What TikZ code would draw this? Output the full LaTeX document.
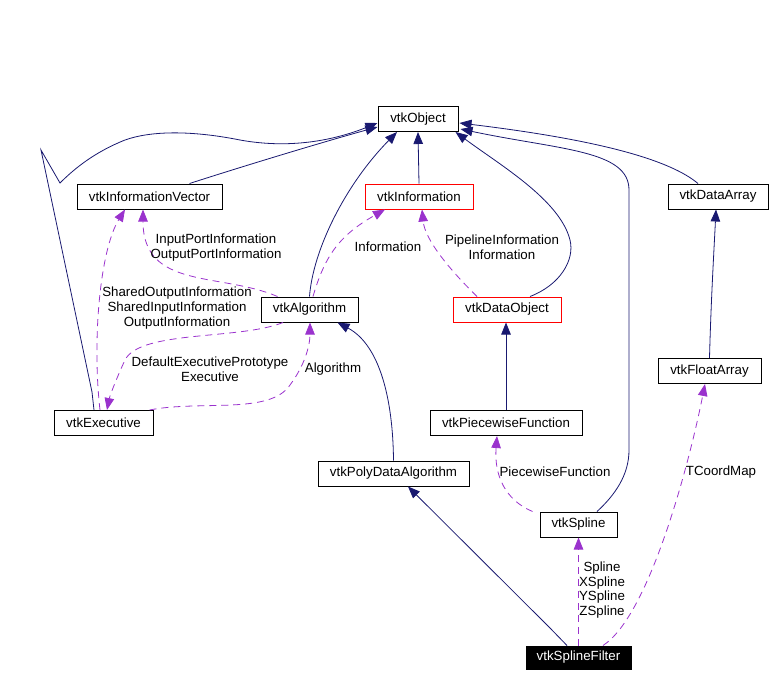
\documentclass[tikz,border=0pt]{standalone}
\usepackage{fontspec}
\setmainfont{Liberation Sans}
\usetikzlibrary{arrows.meta}
\definecolor{edgeNavy}{RGB}{25,25,112}
\definecolor{edgePurple}{RGB}{154,50,205}

\begin{document}
\begin{tikzpicture}[x=1pt,y=-1pt,
		cls/.style={draw=black, line width=1pt, minimum height=25pt, inner xsep=0pt, font=\fontsize{13.3}{15}\selectfont},
		lbl/.style={align=center, inner sep=0pt, font=\fontsize{13.3}{14.7}\selectfont},
		inh/.style={draw=edgeNavy, line width=0.8pt, -{Triangle[length=12pt,width=9.5pt]}},
		use/.style={draw=edgePurple, line width=0.8pt, dash pattern=on 7pt off 5pt, -{Triangle[length=12pt,width=9.5pt]}}]
	\def\picW{774};
	\def\picH{678};
	\useasboundingbox (0,0) rectangle (\picW,\picH);

	\node[cls, minimum width=80pt] (obj) at (418,119) {vtkObject};
	\node[cls, minimum width=145pt] (iv) at (149.5,196.5) {vtkInformationVector};
	\node[cls, minimum width=108pt, draw=red] (info) at (419,196.5) {vtkInformation};
	\node[cls, minimum width=100pt] (darr) at (718,196.5) {vtkDataArray};
	\node[cls, minimum width=97pt] (alg) at (309.5,309.5) {vtkAlgorithm};
	\node[cls, minimum width=108pt, draw=red] (dobj) at (507,309.5) {vtkDataObject};
	\node[cls, minimum width=103pt] (farr) at (709.5,371) {vtkFloatArray};
	\node[cls, minimum width=99pt] (exe) at (103.5,423) {vtkExecutive};
	\node[cls, minimum width=152pt] (pwf) at (506,423) {vtkPiecewiseFunction};
	\node[cls, minimum width=151pt] (pda) at (393.5,473.5) {vtkPolyDataAlgorithm};
	\node[cls, minimum width=77pt] (spl) at (578.5,524.5) {vtkSpline};
	\node[cls, minimum width=105pt, minimum height=23pt, fill=black, text=white] (sf) at (578.5,657.5) {vtkSplineFilter};

	\begin{scope}
		\draw[inh] ([xshift=40pt]iv.north) .. controls (250,164) and (330,140) .. ([yshift=-8pt]obj.west);
		\draw[inh] ([xshift=-9.5pt]exe.north) -- (92,392) -- (41,150) -- (60,183)
			.. controls (75,168) and (95,152) .. (125,140)
			.. controls (150,131) and (190,130) .. (240,140)
			.. controls (295,150) and (340,138) .. ([yshift=-4pt]obj.west);
		\draw[inh] (alg.north) .. controls (313,250) and (345,185) .. ([xshift=-21pt]obj.south);
		\draw[inh] (info.north) -- (obj.south);
		\draw[inh] ([xshift=23pt]dobj.north) .. controls (560,285) and (575,260) .. (570,240)
			.. controls (560,200) and (500,165) .. ([xshift=-3pt]obj.south east);
		\draw[inh] ([xshift=18.5pt]spl.north) .. controls (615,495) and (629,475) .. (629,450) -- (629,190)
			.. controls (629,150) and (560,150) .. ([xshift=2pt,yshift=-10pt]obj.east);
		\draw[inh] ([xshift=-20pt]darr.north) .. controls (670,160) and (600,140) .. ([xshift=1pt,yshift=-4pt]obj.east);
		\draw[inh] (farr.north) .. controls (711,300) and (714,250) .. ([xshift=-2pt]darr.south);
		\draw[inh] (pwf.north) -- (pwf.north |- dobj.south);
		\draw[inh] (pda.north) .. controls (393,400) and (380,345) .. ([xshift=28pt]alg.south);
		\draw[inh] ([xshift=-11.5pt]sf.north) -- (550,628) -- ([xshift=14.5pt]pda.south);
	\end{scope}

	\begin{scope}
		\draw[use] ([xshift=-32pt]alg.north) .. controls (220,272) and (143,290) .. ([xshift=-6.5pt]iv.south);
		\node[lbl] (lblPort) at (216,247.5) {InputPortInformation\\OutputPortInformation};
		\draw[use] ([xshift=-3.5pt]exe.north) .. controls (92,340) and (100,250) .. ([xshift=-24.5pt]iv.south);
		\node[lbl] (lblShared) at (177,308) {SharedOutputInformation\\SharedInputInformation\\OutputInformation};
		\draw[use] ([xshift=3.5pt]alg.north) .. controls (325,255) and (340,235) .. ([xshift=-34pt]info.south);
		\node[lbl] (lblInfo) at (388,247) {Information};
		\draw[use] ([xshift=-30pt]dobj.north) .. controls (450,270) and (425,240) .. ([xshift=3pt]info.south);
		\node[lbl] (lblPipe) at (502,247.5) {PipelineInformation\\Information};
		\draw[use] ([xshift=-4pt]exe.north east) .. controls (200,400) and (270,415) .. (290,385)
			.. controls (305,365) and (310,345) .. ([xshift=0.5pt]alg.south);
		\node[lbl] (lblAlg) at (333,369) {Algorithm};
		\draw[use] ([xshift=-26.5pt]alg.south) .. controls (240,340) and (140,330) .. (125,360)
			.. controls (118,375) and (110,395) .. ([xshift=3.5pt]exe.north);
		\node[lbl] (lblExe) at (210,369.5) {DefaultExecutivePrototype\\Executive};
		\draw[use] ([xshift=-7pt]spl.north west) .. controls (505,500) and (494,475) .. ([xshift=-9pt]pwf.south);
		\node[lbl] (lblPwf) at (555,472) {PiecewiseFunction};
		\draw[use] (sf.north) -- (spl.south);
		\node[lbl] (lblSpline) at (602,590) {Spline\\XSpline\\YSpline\\ZSpline};
		\draw[use] ([xshift=24.5pt]sf.north) .. controls (650,615) and (690,460) .. ([xshift=-4.5pt]farr.south);
		\node[lbl] (lblMap) at (721,472) {TCoordMap};
	\end{scope}
\end{tikzpicture}
\end{document}
